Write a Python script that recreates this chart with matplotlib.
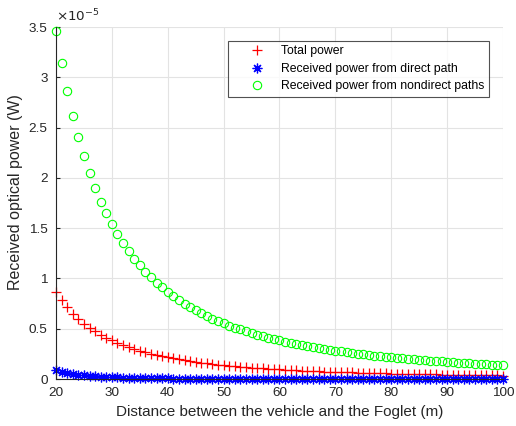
import matplotlib
matplotlib.use("Agg")
import matplotlib.pyplot as plt

plt.rcParams['font.family'] = ['Liberation Sans', 'DejaVu Sans']

# distance (m), one sample per metre
distance = list(range(20, 101))

# received power, in units of 1e-5 W
total_power = [
    0.862, 0.781, 0.712, 0.651, 0.598, 0.551, 0.510, 0.473, 0.440, 0.410,
    0.383, 0.359, 0.337, 0.317, 0.298, 0.281, 0.266, 0.252, 0.239, 0.227,
    0.215, 0.205, 0.195, 0.186, 0.178, 0.170, 0.163, 0.156, 0.150, 0.143,
    0.138, 0.132, 0.127, 0.123, 0.118, 0.114, 0.110, 0.106, 0.102, 0.099,
    0.096, 0.093, 0.090, 0.087, 0.084, 0.082, 0.079, 0.077, 0.074, 0.072,
    0.070, 0.068, 0.067, 0.065, 0.063, 0.061, 0.060, 0.058, 0.057, 0.055,
    0.054, 0.053, 0.051, 0.050, 0.049, 0.048, 0.047, 0.046, 0.045, 0.044,
    0.043, 0.042, 0.041, 0.040, 0.039, 0.038, 0.037, 0.037, 0.036, 0.035,
    0.034,
]
direct_power = [
    0.090, 0.074, 0.061, 0.051, 0.043, 0.037, 0.032, 0.027, 0.023, 0.020,
    0.018, 0.016, 0.014, 0.012, 0.011, 0.010, 0.009, 0.008, 0.007, 0.006,
    0.006, 0.005, 0.005, 0.004, 0.004, 0.004, 0.003, 0.003, 0.003, 0.003,
    0.002, 0.002, 0.002, 0.002, 0.002, 0.002, 0.002, 0.002, 0.001, 0.001,
    0.001, 0.001, 0.001, 0.001, 0.001, 0.001, 0.001, 0.001, 0.001, 0.001,
    0.001, 0.001, 0.001, 0.001, 0.001, 0.001, 0.001, 0.001, 0.001, 0.001,
    0.001, 0.001, 0.001, 0.001, 0.001, 0.001, 0.001, 0.001, 0.001, 0.001,
    0.001, 0.001, 0.001, 0.001, 0.001, 0.001, 0.001, 0.001, 0.001, 0.001,
    0.001,
]
nondirect_power = [
    3.460, 3.138, 2.860, 2.616, 2.403, 2.214, 2.047, 1.898, 1.765, 1.646,
    1.538, 1.440, 1.352, 1.271, 1.197, 1.130, 1.068, 1.011, 0.958, 0.910,
    0.865, 0.823, 0.785, 0.749, 0.715, 0.683, 0.654, 0.627, 0.601, 0.576,
    0.554, 0.532, 0.512, 0.493, 0.475, 0.458, 0.441, 0.426, 0.411, 0.398,
    0.384, 0.372, 0.360, 0.349, 0.338, 0.328, 0.318, 0.308, 0.299, 0.291,
    0.282, 0.275, 0.267, 0.260, 0.253, 0.246, 0.240, 0.233, 0.227, 0.222,
    0.216, 0.211, 0.206, 0.201, 0.196, 0.192, 0.187, 0.183, 0.179, 0.175,
    0.171, 0.167, 0.164, 0.160, 0.157, 0.153, 0.150, 0.147, 0.144, 0.141,
    0.138,
]

x_ticks = [20, 30, 40, 50, 60, 70, 80, 90, 100]
y_ticks = [0, 0.5, 1, 1.5, 2, 2.5, 3, 3.5]
y_tick_labels = ['0', '0.5', '1', '1.5', '2', '2.5', '3', '3.5']

dark = '#262626'

fig = plt.figure(figsize=(5.16, 4.26), dpi=100)
ax = fig.add_axes([0.1085, 0.1103, 0.8663, 0.8263])

ax.plot(distance, total_power, linestyle='none', marker='+', color='red',
        markersize=7, markeredgewidth=0.9, label='Total power', clip_on=False)
ax.plot(distance, direct_power, linestyle='none', marker=(8, 2, 0), color='blue',
        markersize=7, markeredgewidth=0.9, label='Received power from direct path',
        clip_on=False)
ax.plot(distance, nondirect_power, linestyle='none', marker='o', markerfacecolor='none',
        markeredgecolor='#00ff00', markersize=6, markeredgewidth=0.8,
        label='Received power from nondirect paths', clip_on=False)

ax.set_xlim(20, 100)
ax.set_ylim(0, 3.5)
ax.set_xticks(x_ticks)
ax.set_yticks(y_ticks)
ax.set_yticklabels(y_tick_labels)
ax.grid(True, color='#e3e3e3', linewidth=0.8)
ax.set_axisbelow(True)

for side in ['top', 'right']:
    ax.spines[side].set_visible(False)
for side in ['left', 'bottom']:
    ax.spines[side].set_color(dark)
    ax.spines[side].set_linewidth(0.8)

ax.tick_params(direction='in', length=3.2, width=0.8, color=dark,
               labelcolor=dark, labelsize=9.7)
ax.tick_params(axis='x', pad=6)
ax.tick_params(axis='y', pad=6)

ax.set_xlabel('Distance between the vehicle and the Foglet (m)', fontsize=11, color=dark)
ax.set_ylabel('Received optical power (W)', fontsize=11.5, color=dark)
ax.yaxis.set_label_coords(-0.074, 0.53)

ax.text(0.0, 1.008, r'$\times10^{-5}$', transform=ax.transAxes, fontsize=9.7,
        color=dark, ha='left', va='bottom')

leg = ax.legend(loc='upper right', bbox_to_anchor=(0.969, 0.960), borderaxespad=0,
                fontsize=8.8, frameon=True, fancybox=False, borderpad=0.35,
                handlelength=4.0, handletextpad=0.0, labelspacing=0.45)
leg.get_frame().set_edgecolor(dark)
leg.get_frame().set_linewidth(0.8)
for t in leg.get_texts():
    t.set_color('black')

fig.savefig('out.png', dpi=100)
